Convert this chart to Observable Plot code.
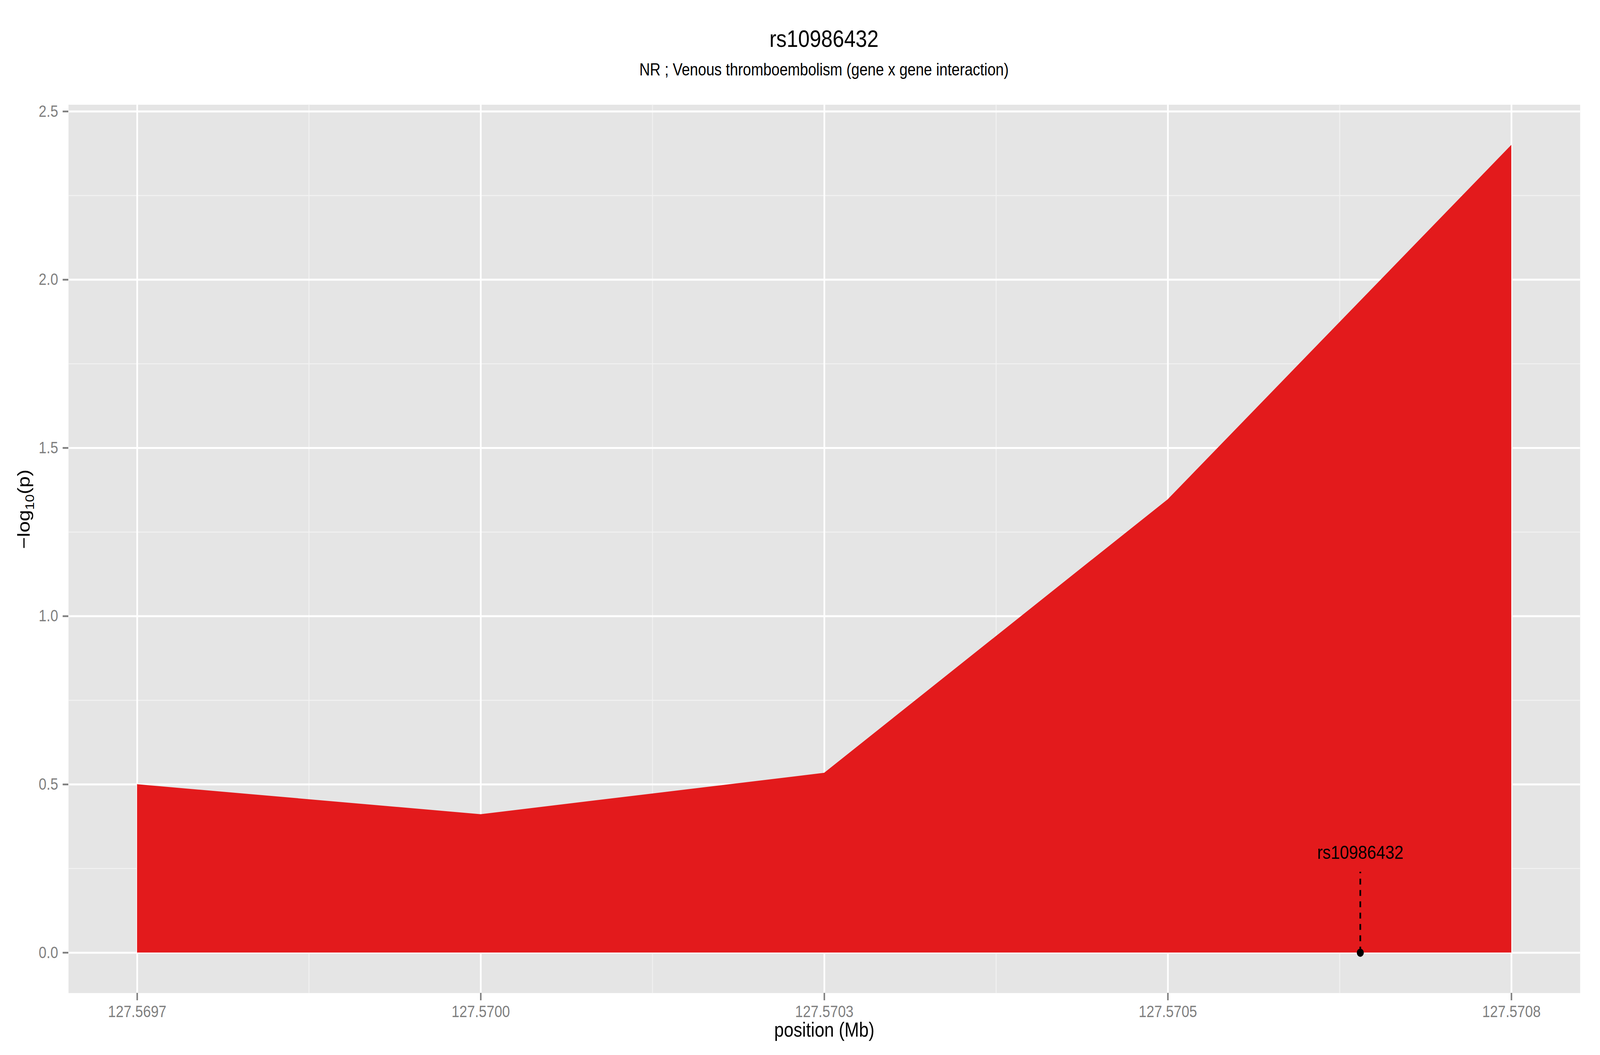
<!DOCTYPE html>
<html>
<head>
<meta charset="utf-8">
<script src="https://cdn.jsdelivr.net/npm/d3@7"></script>
<script src="https://cdn.jsdelivr.net/npm/@observablehq/plot@0.6"></script>
<style>
  html, body { margin: 0; padding: 0; background: white; overflow: hidden; }
  #outer { position: relative; overflow: hidden; }
  #wrap { position: absolute; left: 0; top: 0; width: 4800px; height: 2700px; transform-origin: 0 0; font-family: "Liberation Sans", Arial, Helvetica, sans-serif; background: white; }
  .ttl { position: absolute; transform: translate(-50%, -50%); white-space: nowrap; color: black; }
  #chart { position: absolute; left: 0; top: 230px; width: 4800px; }
  #chart svg { max-width: none !important; display: block; }
</style>
</head>
<body>
<div id="outer">
<div id="wrap">
  <div class="ttl" id="title" style="left:2472px; top:98px; font-size:62px;"></div>
  <div class="ttl" id="subtitle" style="left:2472px; top:178px; font-size:44px;"></div>
  <div id="chart"></div>
</div>
</div>
<script>
// ---- data ----
const titleText = "rs10986432";
const subtitleText = "NR ; Venous thromboembolism (gene x gene interaction)";
const positions = [127.56975, 127.5700, 127.57025, 127.5705, 127.57075];
const logP = [0.500, 0.411, 0.534, 1.347, 2.400];
const snpNames = ["rs10986432"];
const snpPositions = [127.57064];
const snpLogP = [0];
const snpSegmentTop = [0.24];
const snpLabelY = [0.297];
const xTicks = [127.56975, 127.5700, 127.57025, 127.5705, 127.57075];
const xTickLabels = ["127.5697", "127.5700", "127.5703", "127.5705", "127.5708"];
const xMinor = [127.569875, 127.570125, 127.570375, 127.570625];
const yTicks = [0, 0.5, 1.0, 1.5, 2.0, 2.5];
const yTickLabels = ["0.0", "0.5", "1.0", "1.5", "2.0", "2.5"];
const yMinor = [0.25, 0.75, 1.25, 1.75, 2.25];
const xLabel = "position (Mb)";
const yLabel = "−log10(p)";

// ---- build ----
document.getElementById("title").textContent = titleText;
document.getElementById("subtitle").textContent = subtitleText;

const area = positions.map((x, i) => ({x, y: logP[i]}));
const snps = snpNames.map((name, i) => ({name, x: snpPositions[i], y: snpLogP[i], top: snpSegmentTop[i], ly: snpLabelY[i]}));
const xFmt = new Map(xTicks.map((t, i) => [t, xTickLabels[i]]));
const yFmt = new Map(yTicks.map((t, i) => [t, yTickLabels[i]]));
const grey = "#7f7f7f";

const chart = Plot.plot({
  width: 4800,
  height: 2470,
  marginTop: 37.5,
  marginBottom: 159,
  marginLeft: 205,
  marginRight: 60,
  style: {fontFamily: "Liberation Sans, Arial, Helvetica, sans-serif", background: "white", color: "black"},
  x: {domain: [127.5697, 127.5708]},
  y: {domain: [-0.12, 2.52]},
  marks: [
    Plot.frame({fill: "#e5e5e5", stroke: null}),
    Plot.gridX(xMinor, {stroke: "#f2f2f2", strokeOpacity: 1, strokeWidth: 2.5}),
    Plot.gridY(yMinor, {stroke: "#f2f2f2", strokeOpacity: 1, strokeWidth: 2.5}),
    Plot.gridX(xTicks, {stroke: "white", strokeOpacity: 1, strokeWidth: 5}),
    Plot.gridY(yTicks, {stroke: "white", strokeOpacity: 1, strokeWidth: 5}),
    Plot.areaY(area, {x: "x", y: "y", fill: "#E31A1C"}),
    Plot.axisX(xTicks, {tickFormat: d => xFmt.get(d), tickSize: 19, tickPadding: 13, fontSize: 42, color: grey, strokeWidth: 4.5, label: null}),
    Plot.axisY(yTicks, {tickFormat: d => yFmt.get(d), tickSize: 17, tickPadding: 14, fontSize: 42, color: grey, strokeWidth: 4.5, label: null}),
    Plot.ruleX(snps, {x: "x", y1: "y", y2: "top", stroke: "black", strokeWidth: 5, strokeDasharray: "15,14"}),
    Plot.dot(snps, {x: "x", y: "y", r: 10.5, fill: "black", stroke: null}),
    Plot.text(snps, {x: "x", y: "ly", text: "name", fontSize: 49, fill: "black"}),
    Plot.text([xLabel], {frameAnchor: "bottom", dy: 95, text: d => d, fontSize: 52, fill: "black", lineAnchor: "middle"}),
    Plot.text([yLabel], {frameAnchor: "left", dx: -133, rotate: -90, text: d => d, fontSize: 52, fill: "black", lineAnchor: "middle", className: "ylab"})
  ]
});
document.getElementById("chart").appendChild(chart);

// subscript "10" in the y-axis title
const yt = d3.select(chart).select("g.ylab text");
if (!yt.empty()) {
  yt.text(null);
  yt.append("tspan").text("−log");
  yt.append("tspan").attr("font-size", 36).attr("dy", 13).text("10");
  yt.append("tspan").attr("dy", -13).text("(p)");
}

// fit the 4800x2700 design into the actual viewport
function fit() {
  const vw = window.innerWidth || document.documentElement.clientWidth || 4800;
  const vh = window.innerHeight || document.documentElement.clientHeight || 2700;
  const sx = vw / 4800, sy = vh / 2700;
  const outer = document.getElementById("outer");
  outer.style.width = vw + "px";
  outer.style.height = vh + "px";
  document.getElementById("wrap").style.transform = "scale(" + sx + "," + sy + ")";
}
fit();
window.addEventListener("resize", fit);
</script>
</body>
</html>
